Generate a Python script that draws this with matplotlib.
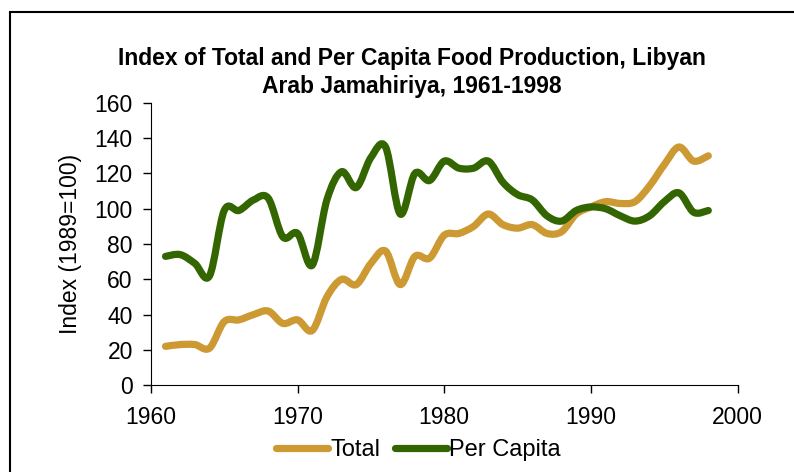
import numpy as np
import matplotlib.pyplot as plt
from matplotlib.path import Path
from matplotlib.patches import PathPatch, Rectangle
from matplotlib.lines import Line2D

plt.rcParams['font.family'] = ['Liberation Sans', 'DejaVu Sans']

years = list(range(1961, 1999))
total = [22, 23, 23, 21, 36, 37, 40, 42, 35, 37,
         31, 50, 60, 57, 69, 76, 57, 73, 72, 85,
         86, 90, 97, 91, 89, 91, 86, 87, 97, 101,
         104, 103, 104, 113, 125, 135, 127, 130]
per_capita = [73, 74, 69, 62, 99, 99, 105, 106, 84, 86,
              68, 105, 121, 112, 129, 135, 97, 120, 116, 127,
              123, 123, 127, 115, 108, 105, 96, 93, 99, 101,
              100, 96, 93, 96, 104, 109, 98, 99]

col_total = '#CC9933'
col_pc = '#336600'


def smooth_path(x, y):
    # Excel-style smoothed line: cubic bezier with catmull-rom control points
    x = np.asarray(x, float)
    y = np.asarray(y, float)
    n = len(x)
    verts = [(x[0], y[0])]
    codes = [Path.MOVETO]
    for i in range(n - 1):
        i0 = max(i - 1, 0)
        i3 = min(i + 2, n - 1)
        c1 = (x[i] + (x[i + 1] - x[i0]) / 6, y[i] + (y[i + 1] - y[i0]) / 6)
        c2 = (x[i + 1] - (x[i3] - x[i]) / 6, y[i + 1] - (y[i3] - y[i]) / 6)
        verts += [c1, c2, (x[i + 1], y[i + 1])]
        codes += [Path.CURVE4] * 3
    return Path(verts, codes)


fig = plt.figure(figsize=(7.94, 4.72), dpi=100)
ax = fig.add_axes([0.190, 0.184, 0.739, 0.598])

for vals, c in [(total, col_total), (per_capita, col_pc)]:
    patch = PathPatch(smooth_path(years, vals), fill=False, edgecolor=c,
                      lw=5.2, capstyle='round', joinstyle='round')
    ax.add_patch(patch)

ax.set_xlim(1960, 2000)
ax.set_ylim(0, 160)
ax.set_xticks([1960, 1970, 1980, 1990, 2000])
ax.set_yticks(range(0, 161, 20))
ax.tick_params(labelsize=16.5, length=6, width=1, direction='out')
ax.tick_params(axis='x', pad=9)
ax.tick_params(axis='y', pad=7)
ax.spines['top'].set_visible(False)
ax.spines['right'].set_visible(False)
ax.set_ylabel('Index (1989=100)', fontsize=16.5, labelpad=9)

fig.text(0.519, 0.876, 'Index of Total and Per Capita Food Production, Libyan',
         ha='center', va='center', fontsize=16.5, fontweight='bold')
fig.text(0.519, 0.817, 'Arab Jamahiriya, 1961-1998',
         ha='center', va='center', fontsize=16.5, fontweight='bold')

handles = [Line2D([], [], color=col_total, lw=5.2, solid_capstyle='round'),
           Line2D([], [], color=col_pc, lw=5.2, solid_capstyle='round')]
fig.legend(handles, ['Total', 'Per Capita'], loc='center',
           bbox_to_anchor=(0.527, 0.047), ncol=2, frameon=False, fontsize=17,
           handlelength=2.2, handletextpad=0.1, columnspacing=0.6)

fig.patches.append(Rectangle((10 / 794, -0.1), 1.2, 1 - 12 / 472 + 0.1,
                             transform=fig.transFigure, fill=False,
                             edgecolor='black', lw=1.5))

fig.savefig('out.png', dpi=100)
